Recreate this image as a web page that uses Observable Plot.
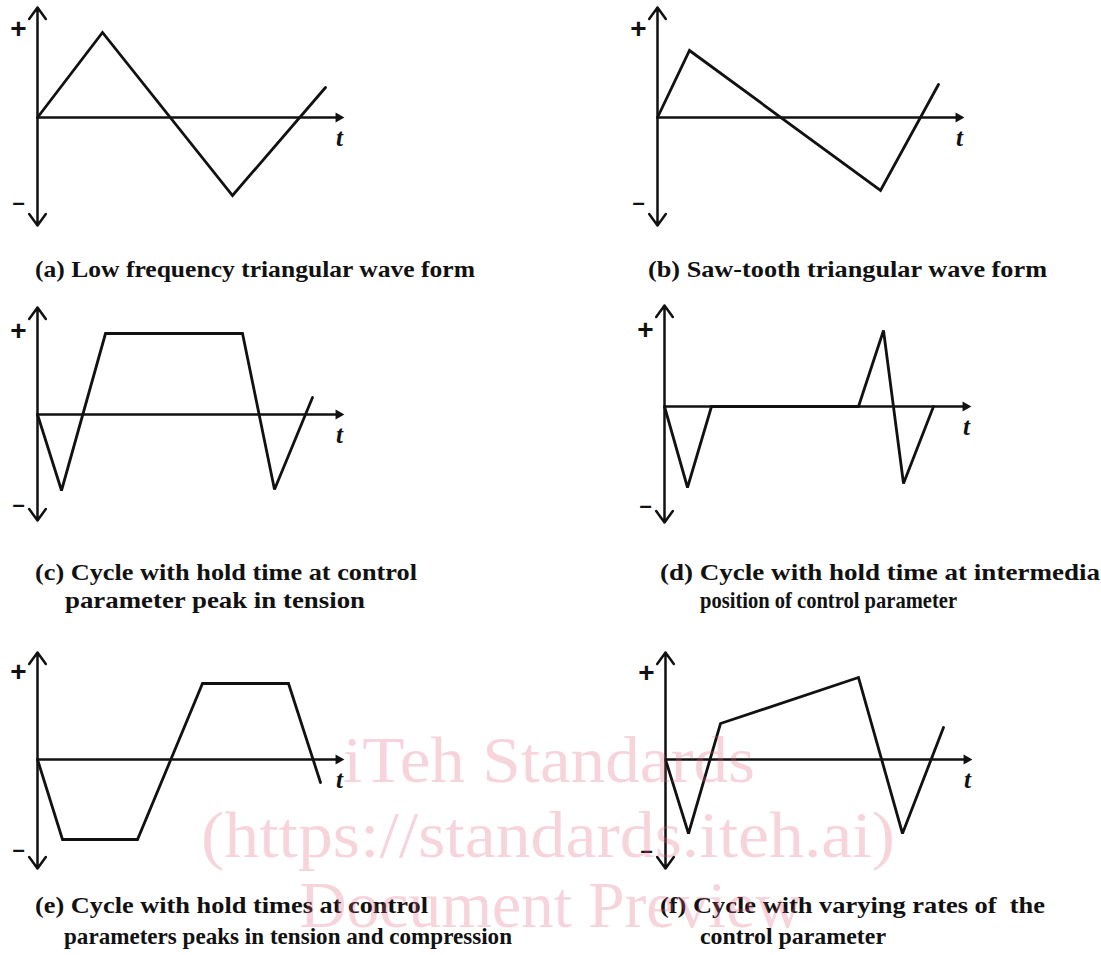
<!DOCTYPE html>
<html>
<head>
<meta charset="utf-8">
<script src="https://cdn.jsdelivr.net/npm/d3@7"></script>
<script src="https://cdn.jsdelivr.net/npm/@observablehq/plot@0.6"></script>
<style>
  html, body { margin: 0; padding: 0; background: #ffffff; }
  #root { position: relative; width: 1101px; height: 955px; overflow: hidden; background: #fff; }
  .panel { position: absolute; }
  .panel svg { overflow: visible; background: transparent; }
  #overlay { position: absolute; left: 0; top: 0; pointer-events: none; }
  .cap { font-family: 'Liberation Serif', 'Times New Roman', Tinos, 'DejaVu Serif Condensed', serif; font-weight: bold; font-size: 23px; }
  .wm { font-family: 'Liberation Serif', 'Times New Roman', Tinos, 'DejaVu Serif Condensed', serif; font-size: 66px; }
</style>
</head>
<body>
<div id="root"></div>
<script>
// ---- Waveform data (time t, control parameter value) ----
const tA = [0, 65, 195, 288];
const vA = [0, 85, -78, 30];
const tB = [0, 32, 223, 281];
const vB = [0, 67, -73, 33];
const tC = [0, 24, 68, 205, 237, 275];
const vC = [0, -76, 81, 81, -75, 17];
const tD = [0, 23, 47, 194, 219, 239, 269];
const vD = [0, -81, 0, 0, 76, -77, 0];
const tE = [0, 25, 100, 165, 251, 283];
const vE = [0, -80, -80, 76, 76, -23];
const tF = [0, 23, 55, 193, 237, 278];
const vF = [0, -74, 36, 82, -74, 32];

// ---- Axis labels ----
const plusLabel = "+";
const minusLabel = "–";
const timeLabel = "t";

// ---- Captions ----
const captionA = ["(a) Low frequency triangular wave form"];
const captionB = ["(b) Saw-tooth triangular wave form"];
const captionC = ["(c) Cycle with hold time at control", "parameter peak in tension"];
const captionD = ["(d) Cycle with hold time at intermedia", "position of control parameter"];
const captionE = ["(e) Cycle with hold times at control", "parameters peaks in tension and compression"];
const captionF = ["(f) Cycle with varying rates of  the", "control parameter"];

// ---- Watermark ----
const watermark = ["iTeh Standards", "(https://standards.iteh.ai)", "Document Preview"];

// ---- Layout (positions only) ----
const panels = [
  {t: tA, v: vA, left: 0,   top: 0,   axTop: 110, axBot: -108, plusY: 88, minusY: -85},
  {t: tB, v: vB, left: 620, top: 0,   axTop: 110, axBot: -108, plusY: 88, minusY: -85},
  {t: tC, v: vC, left: 0,   top: 297, axTop: 107, axBot: -106, plusY: 83, minusY: -90},
  {t: tD, v: vD, left: 627, top: 289, axTop: 101, axBot: -116, plusY: 76, minusY: -99},
  {t: tE, v: vE, left: 0,   top: 642, axTop: 107, axBot: -109, plusY: 87, minusY: -90},
  {t: tF, v: vF, left: 628, top: 642, axTop: 107, axBot: -109, plusY: 86, minusY: -91}
];
const axisEnd = 306;
const ink = "#111";
const serif = "'Liberation Serif', 'Times New Roman', Tinos, serif";
const sans = "'Liberation Sans', Arial, sans-serif";

const root = document.getElementById("root");

panels.forEach(p => {
  const data = p.t.map((t, i) => ({t, v: p.v[i]}));
  const chart = Plot.plot({
    width: 360,
    height: 240,
    marginTop: 0, marginRight: 0, marginBottom: 0, marginLeft: 0,
    x: {domain: [-37, 323], range: [0, 360], axis: null},
    y: {domain: [-123, 117], range: [240, 0], axis: null},
    style: {background: "transparent", overflow: "visible"},
    marks: [
      // vertical axis with open arrowheads both ways
      Plot.arrow([{y2: p.axTop}, {y2: p.axBot}], {
        x1: 0, x2: 0, y1: 0, y2: "y2",
        stroke: ink, strokeWidth: 2.5, headAngle: 72, headLength: 8.5
      }),
      // horizontal (time) axis
      Plot.ruleY([0], {x1: 0, x2: axisEnd - 4, stroke: ink, strokeWidth: 2.5}),
      Plot.dot([{x: axisEnd, y: 0}], {
        x: "x", y: "y", symbol: "triangle", rotate: 90, r: 3.8,
        fill: ink, stroke: "none", dx: -5
      }),
      // waveform
      Plot.line(data, {
        x: "t", y: "v", stroke: ink, strokeWidth: 2.8,
        strokeLinejoin: "miter", strokeMiterlimit: 3, curve: "linear"
      }),
      // labels
      Plot.text([plusLabel], {
        x: -19, y: p.plusY, text: d => d, fontSize: 28, fontWeight: "bold",
        fontFamily: sans, fill: ink
      }),
      Plot.text([minusLabel], {
        x: -19, y: p.minusY, text: d => d, fontSize: 22, fontWeight: "bold",
        fontFamily: sans, fill: ink
      }),
      Plot.text([timeLabel], {
        x: 302, y: -20, text: d => d, fontSize: 25, fontWeight: "bold", fontStyle: "italic",
        fontFamily: serif, fill: ink
      })
    ]
  });
  const div = document.createElement("div");
  div.className = "panel";
  div.style.left = p.left + "px";
  div.style.top = p.top + "px";
  div.appendChild(chart);
  root.appendChild(div);
});

// ---- Overlay: captions and watermark ----
const svg = d3.select(root).append("svg")
  .attr("id", "overlay")
  .attr("width", 1101).attr("height", 955);

const captionLayout = [
  {lines: captionA, pos: [[35, 277, 440]]},
  {lines: captionB, pos: [[648, 277, 399]]},
  {lines: captionC, pos: [[35, 580, 382], [65, 608, 300]]},
  {lines: captionD, pos: [[660, 580, 440], [700, 608, 257]]},
  {lines: captionE, pos: [[35, 913, 393], [64, 944, 448]]},
  {lines: captionF, pos: [[660, 913, 385], [700, 944, 186]]}
];

captionLayout.forEach(c => {
  c.lines.forEach((line, i) => {
    const [x, y, w] = c.pos[i];
    svg.append("text")
      .attr("class", "cap")
      .attr("x", x).attr("y", y)
      .attr("textLength", w)
      .attr("lengthAdjust", "spacingAndGlyphs")
      .attr("fill", ink)
      .style("white-space", "pre")
      .text(line);
  });
});

const wmLayout = [[549, 782, 412], [548, 857, 694], [551, 927, 503]];
watermark.forEach((line, i) => {
  const [x, y, w] = wmLayout[i];
  svg.append("text")
    .attr("class", "wm")
    .attr("x", x).attr("y", y)
    .attr("text-anchor", "middle")
    .attr("textLength", w)
    .attr("lengthAdjust", "spacingAndGlyphs")
    .attr("fill", "#e0607f")
    .attr("fill-opacity", 0.27)
    .text(line);
});
</script>
</body>
</html>
